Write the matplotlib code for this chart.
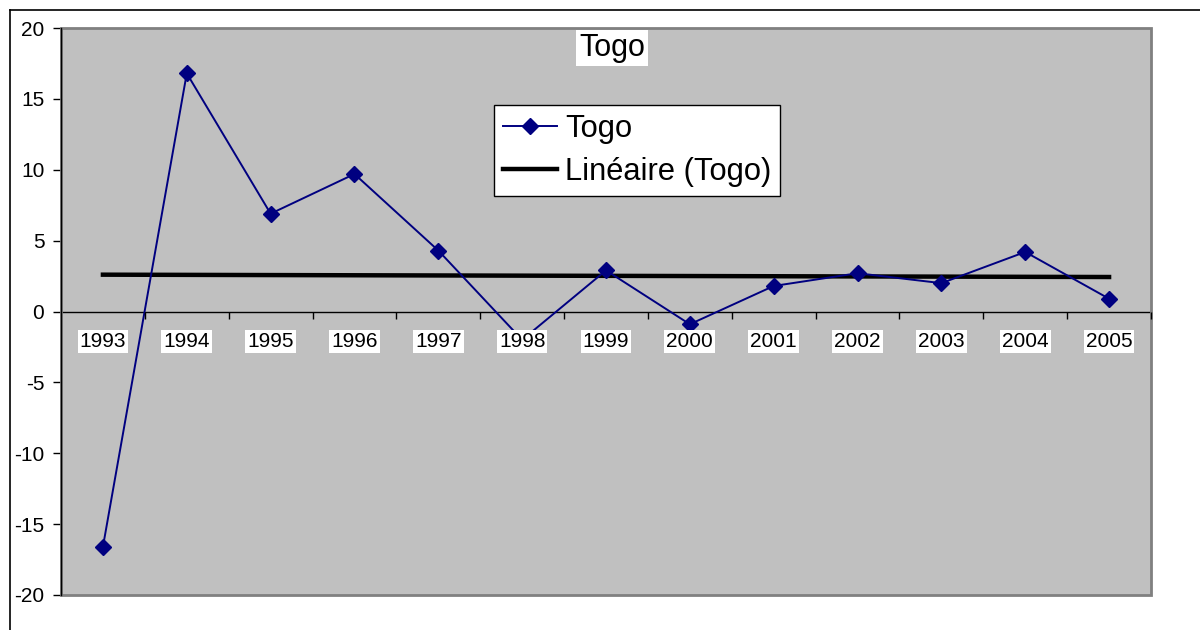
import numpy as np
import matplotlib.pyplot as plt
from matplotlib.lines import Line2D
from matplotlib.patches import Rectangle

plt.rcParams['font.family'] = ['Liberation Sans', 'DejaVu Sans']
plt.rcParams['axes.unicode_minus'] = False

# Data
years = ["1993", "1994", "1995", "1996", "1997", "1998", "1999",
         "2000", "2001", "2002", "2003", "2004", "2005"]
togo = [-16.6, 16.8, 6.9, 9.7, 4.3, -2.0, 2.9, -0.9, 1.8, 2.7, 2.0, 4.2, 0.9]

x = np.arange(len(years))
coef = np.polyfit(x, togo, 1)
trend = np.polyval(coef, x)

fig = plt.figure(figsize=(12, 6.3), dpi=100)
ax = fig.add_axes([61 / 1200, 1 - 595 / 630, 1090 / 1200, 567 / 630])
ax.set_facecolor("#C0C0C0")

line_togo, = ax.plot(x, togo, color="#000080", lw=1.4, marker="D",
                     markersize=8.5, label="Togo", zorder=4)
line_trend, = ax.plot(x, trend, color="black", lw=3.2,
                      label="Linéaire (Togo)", zorder=3)

ax.set_xlim(-0.5, len(years) - 0.5)
ax.set_ylim(-20, 20)
ax.set_yticks(np.arange(-20, 21, 5))
ax.tick_params(axis="y", direction="out", length=6, width=1, labelsize=15, pad=6)

# x axis drawn at zero, ticks between categories
for s in ["top", "right"]:
    ax.spines[s].set_visible(False)
ax.spines["bottom"].set_position(("data", 0))
ax.spines["bottom"].set_color("black")
ax.spines["bottom"].set_linewidth(1)
ax.spines["left"].set_linewidth(1)
ax.set_xticks(x)
ax.set_xticklabels(years)
ax.set_xticks(np.arange(0.5, len(years), 1), minor=True)
ax.tick_params(axis="x", which="major", length=0, labelsize=15, pad=15)
ax.tick_params(axis="x", which="minor", direction="out", length=5, width=1)
for lab in ax.get_xticklabels():
    lab.set_bbox(dict(facecolor="white", edgecolor="none", pad=1.5))
ax.xaxis.set_zorder(10)

# gray border of the plot area
ax.add_patch(Rectangle((0, 0), 1, 1, transform=ax.transAxes, fill=False,
                       edgecolor="#808080", lw=2, zorder=5, clip_on=False))
ax.spines["left"].set_zorder(6)

# title
fig.text(612 / 1200, 1 - 48 / 630, "Togo", fontsize=22, ha="center", va="center",
         bbox=dict(facecolor="white", edgecolor="none", pad=2))

leg = fig.legend(handles=[line_togo, line_trend], loc="upper left",
                 bbox_to_anchor=(494 / 1200, 1 - 105 / 630), fontsize=22.2,
                 frameon=True, fancybox=False, edgecolor="black", framealpha=1,
                 borderaxespad=0, handlelength=1.75, handletextpad=0.25,
                 labelspacing=0.42, borderpad=0.3)
leg.get_frame().set_linewidth(1)

# outer chart frame (top and left edges visible)
fig.add_artist(Line2D([10 / 1200, 1], [1 - 10 / 630, 1 - 10 / 630], color="black", lw=1.2))
fig.add_artist(Line2D([10 / 1200, 10 / 1200], [0, 1 - 10 / 630], color="black", lw=1.2))

fig.savefig("out.png", dpi=100)
